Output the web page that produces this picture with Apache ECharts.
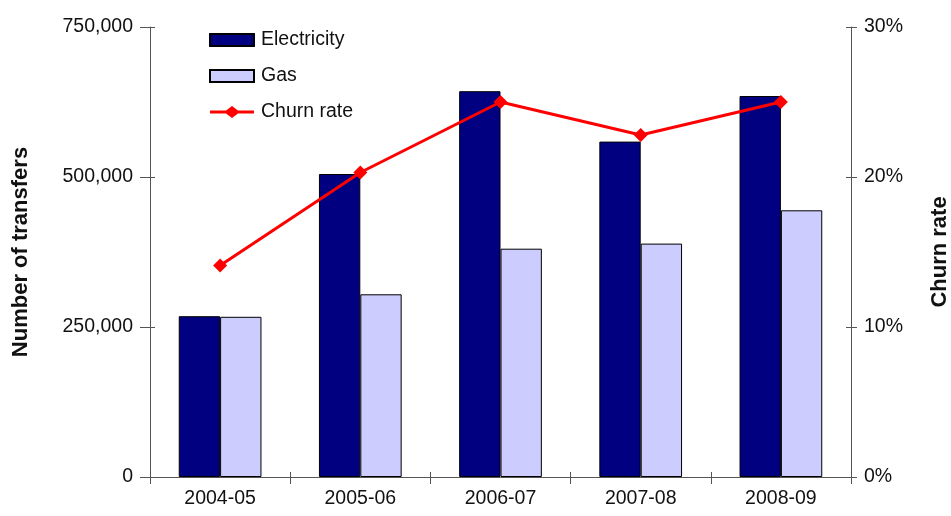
<!DOCTYPE html>
<html>
<head>
<meta charset="utf-8">
<script src="https://cdn.jsdelivr.net/npm/echarts@6/dist/echarts.min.js"></script>
<style>
  html, body { margin: 0; padding: 0; background: #fff; }
  #chart { width: 951px; height: 516px; }
</style>
</head>
<body>
<div id="chart"></div>
<script>
// Energy supplier transfers by year, with churn rate
const years = ['2004-05', '2005-06', '2006-07', '2007-08', '2008-09'];
const electricity = [268000, 505000, 643000, 559000, 635000];
const gas = [267000, 304500, 380500, 389000, 444500];
const churnRate = [14.1, 20.3, 25.0, 22.8, 25.0];

const FONT = 'Liberation Sans, Arial, Helvetica, sans-serif';
const AXIS_COLOR = '#555';
const TEXT_COLOR = '#111';
const FS = 19.5;

// legend icon for the line series: thick line with a diamond in the middle
const LINE_DIAMOND_ICON = 'path://M0,4.5L16,4.5L22,0L28,4.5L44,4.5L44,7.5L28,7.5L22,12L16,7.5L0,7.5Z';

const chart = echarts.init(document.getElementById('chart'), null, { renderer: 'canvas' });

const fmtThousands = v => v.toLocaleString('en-US');

chart.setOption({
  animation: false,
  backgroundColor: '#fff',
  textStyle: { fontFamily: FONT },
  grid: { left: 150, right: 100, top: 27, bottom: 39, containLabel: false, outerBoundsMode: 'none' },
  legend: {
    orient: 'vertical',
    left: 209,
    top: 30,
    padding: 0,
    itemWidth: 44,
    itemHeight: 12,
    itemGap: 16,
    textStyle: { fontFamily: FONT, fontSize: FS, color: TEXT_COLOR, padding: [0, 0, 0, 2] },
    data: [
      { name: 'Electricity', icon: 'rect' },
      { name: 'Gas', icon: 'rect' },
      { name: 'Churn rate', icon: LINE_DIAMOND_ICON, itemStyle: { color: '#FF0000', borderWidth: 0 } }
    ]
  },
  xAxis: [
    {
      type: 'category',
      data: years,
      axisLine: { lineStyle: { color: AXIS_COLOR, width: 1 } },
      axisTick: { show: true, length: 7, lineStyle: { color: AXIS_COLOR } },
      axisLabel: { color: TEXT_COLOR, fontSize: FS, fontFamily: FONT, margin: 12 },
      splitLine: { show: false }
    },
    {
      // inner half of the crossing category ticks
      type: 'category',
      data: years,
      position: 'bottom',
      axisLine: { show: false },
      axisTick: { show: true, inside: true, length: 5, lineStyle: { color: AXIS_COLOR } },
      axisLabel: { show: false },
      splitLine: { show: false }
    }
  ],
  yAxis: [
    {
      type: 'value',
      name: 'Number of transfers',
      nameLocation: 'middle',
      nameGap: 118,
      nameTextStyle: { fontSize: 22, fontWeight: 'bold', color: TEXT_COLOR, fontFamily: FONT },
      min: 0, max: 750000, interval: 250000,
      position: 'left',
      axisLine: { show: true, lineStyle: { color: AXIS_COLOR } },
      axisTick: { show: true, length: 10, lineStyle: { color: AXIS_COLOR } },
      axisLabel: { color: TEXT_COLOR, fontSize: FS, fontFamily: FONT, margin: 17, formatter: fmtThousands },
      splitLine: { show: false }
    },
    {
      type: 'value',
      name: 'Churn rate',
      nameLocation: 'middle',
      nameGap: 78,
      nameRotate: 90,
      nameTextStyle: { fontSize: 22, fontWeight: 'bold', color: TEXT_COLOR, fontFamily: FONT },
      min: 0, max: 30, interval: 10,
      position: 'right',
      axisLine: { show: true, lineStyle: { color: AXIS_COLOR } },
      axisTick: { show: true, length: 6, lineStyle: { color: AXIS_COLOR } },
      axisLabel: { color: TEXT_COLOR, fontSize: FS, fontFamily: FONT, margin: 13, formatter: '{value}%' },
      splitLine: { show: false }
    },
    {
      // inner half of the crossing ticks on the left axis
      type: 'value',
      min: 0, max: 750000, interval: 250000,
      position: 'left',
      axisLine: { show: false },
      axisTick: { show: true, inside: true, length: 5, lineStyle: { color: AXIS_COLOR } },
      axisLabel: { show: false },
      splitLine: { show: false }
    },
    {
      // inner half of the crossing ticks on the right axis
      type: 'value',
      min: 0, max: 30, interval: 10,
      position: 'right',
      axisLine: { show: false },
      axisTick: { show: true, inside: true, length: 5, lineStyle: { color: AXIS_COLOR } },
      axisLabel: { show: false },
      splitLine: { show: false }
    }
  ],
  series: [
    {
      name: 'Electricity',
      type: 'bar',
      yAxisIndex: 0,
      data: electricity,
      barGap: '0%',
      barCategoryGap: '41%',
      itemStyle: { color: '#000080', borderColor: '#000', borderWidth: 1 }
    },
    {
      name: 'Gas',
      type: 'bar',
      yAxisIndex: 0,
      data: gas,
      itemStyle: { color: '#CCCCFF', borderColor: '#000', borderWidth: 1 }
    },
    {
      name: 'Churn rate',
      type: 'line',
      yAxisIndex: 1,
      data: churnRate,
      symbol: 'diamond',
      symbolSize: 14,
      lineStyle: { color: '#FF0000', width: 3 },
      itemStyle: { color: '#FF0000' },
      z: 5
    }
  ]
});
</script>
</body>
</html>
